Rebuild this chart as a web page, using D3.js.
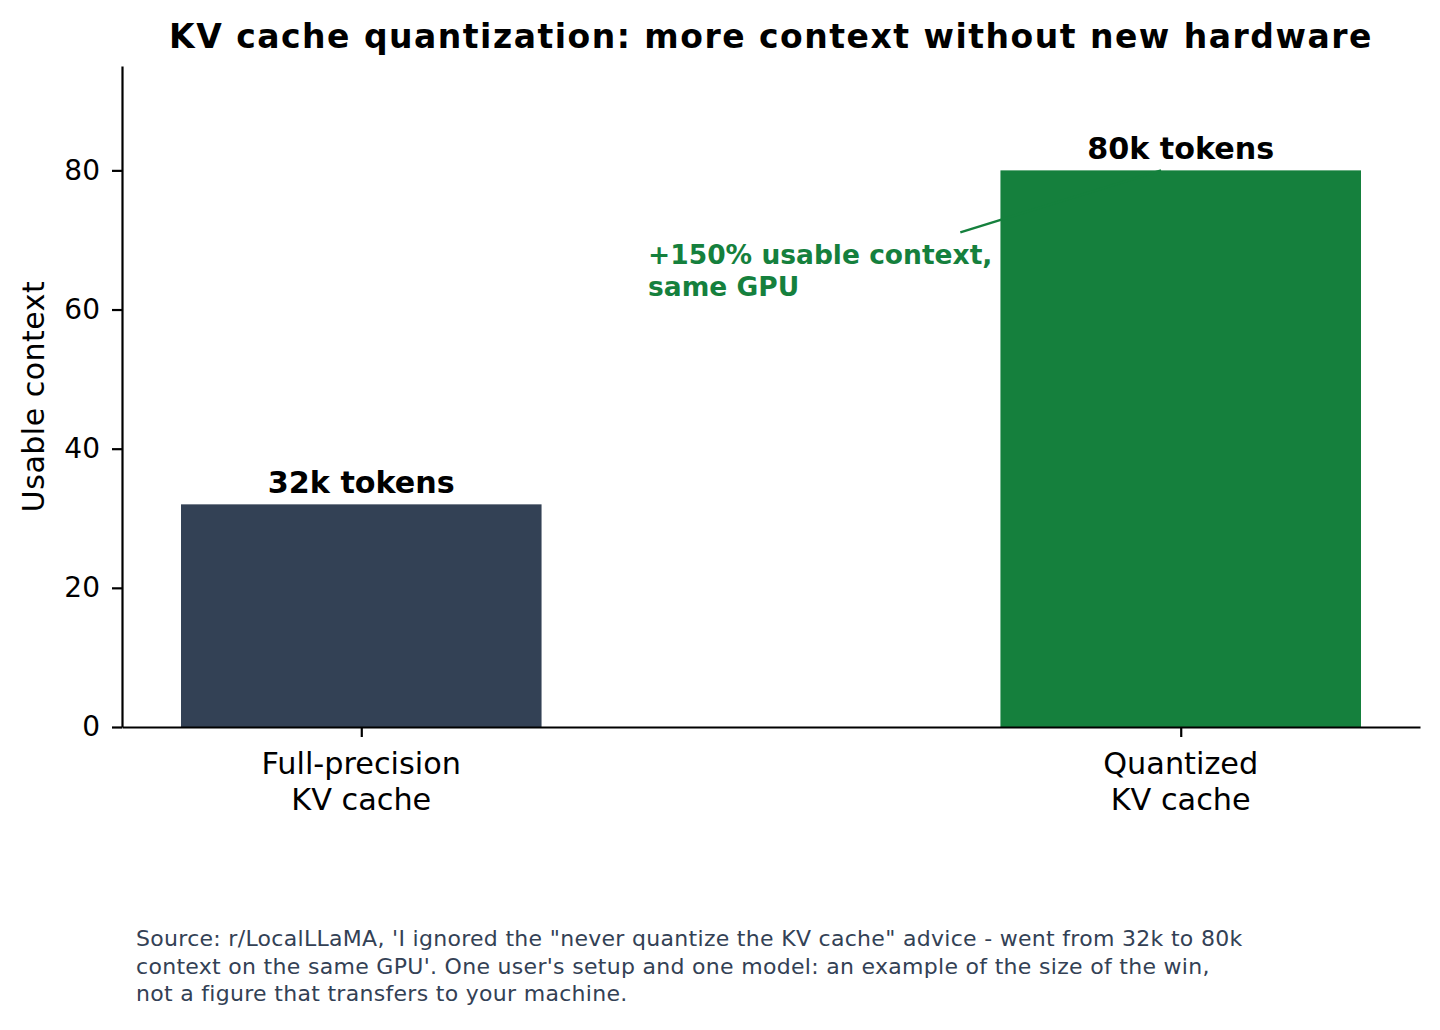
<!DOCTYPE html>
<html>
<head>
<meta charset="utf-8">
<script src="https://cdn.jsdelivr.net/npm/d3@7"></script>
<style>
  body { margin: 0; background: #fff; }
  svg { display: block; font-family: "DejaVu Sans", sans-serif; }
</style>
</head>
<body>
<script>
const categories = ["Full-precision\nKV cache", "Quantized\nKV cache"];
const values = [32, 80];
const barLabels = ["32k tokens", "80k tokens"];
const barColors = ["#334155", "#15803d"];
const yTicks = [0, 20, 40, 60, 80];
const titleText = "KV cache quantization: more context without new hardware";
const yLabelText = "Usable context";
const annotationLines = ["+150% usable context,", "same GPU"];
const sourceLines = [
  "Source: r/LocalLLaMA, 'I ignored the \"never quantize the KV cache\" advice - went from 32k to 80k",
  "context on the same GPU'. One user's setup and one model: an example of the size of the win,",
  "not a figure that transfers to your machine.",
];

const W = 1440;
const H = 1030;
const plot = { left: 122, right: 1420, top: 66, bottom: 727 };
const barWidth = 0.44;

const svg = d3
  .select("body")
  .append("svg")
  .attr("width", W)
  .attr("height", H);

const xScale = d3
  .scaleLinear()
  .domain([-0.5 * barWidth - 0.05 * (1 + barWidth), 1 + 0.5 * barWidth + 0.05 * (1 + barWidth)])
  .range([plot.left, plot.right]);

const yScale = d3.scaleLinear().domain([0, 95]).range([plot.bottom, plot.top]);

// bars
svg
  .append("g")
  .selectAll("rect")
  .data(values)
  .join("rect")
  .attr("x", (d, i) => xScale(i - barWidth / 2))
  .attr("width", (d, i) => xScale(i + barWidth / 2) - xScale(i - barWidth / 2))
  .attr("y", (d) => yScale(d))
  .attr("height", (d) => yScale(0) - yScale(d))
  .attr("fill", (d, i) => barColors[i]);

// bar value labels
svg
  .append("g")
  .selectAll("text")
  .data(values)
  .join("text")
  .attr("x", (d, i) => xScale(i))
  .attr("y", (d) => yScale(d) - 11)
  .attr("text-anchor", "middle")
  .attr("font-size", 30.2)
  .attr("font-weight", "bold")
  .attr("fill", "#000")
  .text((d, i) => barLabels[i]);

// annotation arrow + text
const arrowFrom = [0.731, 71.1];
const arrowTo = [0.976, 80];
svg
  .append("line")
  .attr("x1", xScale(arrowFrom[0]))
  .attr("y1", yScale(arrowFrom[1]))
  .attr("x2", xScale(arrowTo[0]))
  .attr("y2", yScale(arrowTo[1]))
  .attr("stroke", barColors[1])
  .attr("stroke-width", 2.4);

const annText = svg
  .append("text")
  .attr("x", xScale(0.35))
  .attr("y", yScale(66.6))
  .attr("font-size", 26.5)
  .attr("font-weight", "bold")
  .attr("fill", barColors[1]);
annText
  .selectAll("tspan")
  .data(annotationLines)
  .join("tspan")
  .attr("x", xScale(0.35))
  .attr("dy", (d, i) => (i === 0 ? 0 : 32))
  .text((d) => d);

// axes
const yAxis = d3
  .axisLeft(yScale)
  .tickValues(yTicks)
  .tickSize(10)
  .tickPadding(12)
  .tickSizeOuter(0);

const yAxisG = svg
  .append("g")
  .attr("transform", `translate(${plot.left},0)`)
  .call(yAxis);

yAxisG.select(".domain").attr("stroke", "#000").attr("stroke-width", 2.2);
yAxisG.selectAll(".tick line").attr("stroke", "#000").attr("stroke-width", 2.2);
yAxisG
  .selectAll(".tick text")
  .attr("font-size", 28)
  .attr("font-family", "DejaVu Sans")
  .attr("fill", "#000");

const xAxis = d3
  .axisBottom(xScale)
  .tickValues([0, 1])
  .tickFormat("")
  .tickSize(10)
  .tickSizeOuter(0);

const xAxisG = svg
  .append("g")
  .attr("transform", `translate(0,${plot.bottom})`)
  .call(xAxis);

xAxisG.select(".domain").attr("stroke", "#000").attr("stroke-width", 2.2);
xAxisG.selectAll(".tick line").attr("stroke", "#000").attr("stroke-width", 2.2);

// x category labels (two lines)
const xLabels = svg
  .append("g")
  .selectAll("text")
  .data(categories)
  .join("text")
  .attr("x", (d, i) => xScale(i))
  .attr("y", plot.bottom + 47)
  .attr("text-anchor", "middle")
  .attr("font-size", 30.3)
  .attr("fill", "#000");

xLabels
  .selectAll("tspan")
  .data((d) => d.split("\n"))
  .join("tspan")
  .attr("x", function () {
    return d3.select(this.parentNode).attr("x");
  })
  .attr("dy", (d, i) => (i === 0 ? 0 : 36))
  .text((d) => d);

// y label
svg
  .append("text")
  .attr("transform", `translate(44,${(plot.top + plot.bottom) / 2}) rotate(-90)`)
  .attr("text-anchor", "middle")
  .attr("font-size", 30)
  .attr("letter-spacing", 0.5)
  .attr("fill", "#000")
  .text(yLabelText);

// title
svg
  .append("text")
  .attr("x", (plot.left + plot.right) / 2)
  .attr("y", 48)
  .attr("text-anchor", "middle")
  .attr("font-size", 33)
  .attr("letter-spacing", 1.5)
  .attr("font-weight", "bold")
  .attr("fill", "#000")
  .text(titleText);

// source note
svg
  .append("g")
  .selectAll("text")
  .data(sourceLines)
  .join("text")
  .attr("x", 136)
  .attr("y", (d, i) => 946 + i * 27.5)
  .attr("font-size", 22)
  .attr("letter-spacing", 0.3)
  .attr("fill", "#334155")
  .text((d) => d);
</script>
</body>
</html>
